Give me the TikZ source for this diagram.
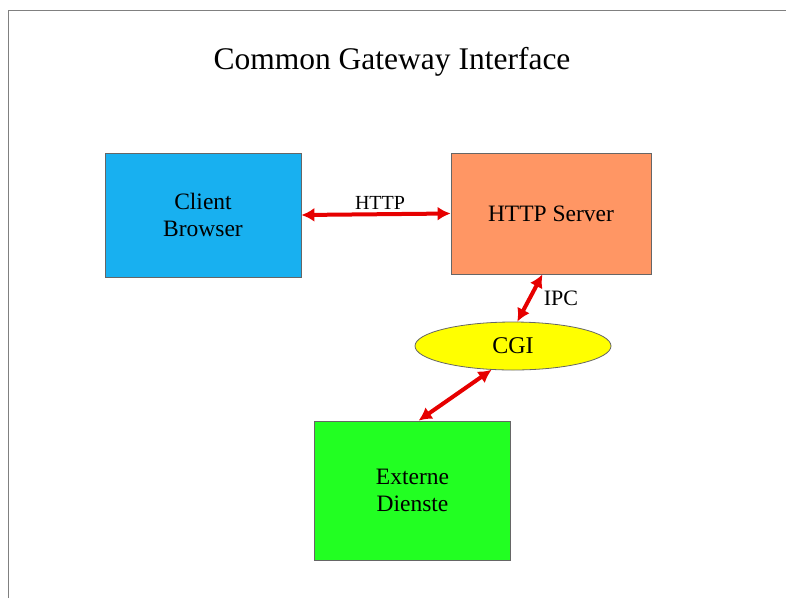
\documentclass[tikz,border=0pt]{standalone}
\usepackage{fontspec}
\setmainfont{Liberation Serif}
\usetikzlibrary{shapes.geometric,arrows.meta}
\definecolor{clientblue}{RGB}{24,176,240}
\definecolor{serverorange}{RGB}{255,150,100}
\definecolor{cgiyellow}{RGB}{255,255,0}
\definecolor{extgreen}{RGB}{34,255,34}
\definecolor{arrowred}{RGB}{230,0,0}
\begin{document}
\begin{tikzpicture}[x=1pt,y=-1pt,
    box/.style={draw=black!60,line width=0.8pt,minimum width=196pt,align=center,font=\fontsize{23.5}{27}\selectfont},
    link/.style={arrowred,line width=4pt,{Latex[length=13pt,width=14pt]}-{Latex[length=13pt,width=14pt]}},
    lbl/.style={font=\fontsize{20}{22}\selectfont}]
          \useasboundingbox (0,0) rectangle (786,598);
          % frame
          \draw[gray,line width=1pt] (8,598) -- (8,10) -- (786,10);
          % title
          \node (title) at (392,62) {\fontsize{31.5}{35}\selectfont Common Gateway Interface};
          % boxes
          \node[box,fill=clientblue,minimum height=124pt] (client) at (203,215) {Client\\Browser};
          \node[box,fill=serverorange,minimum height=121pt,minimum width=200pt] (server) at (551,213.5) {HTTP Server};
          \node[ellipse,draw=black!60,line width=0.8pt,fill=cgiyellow,minimum width=196pt,minimum height=48pt,inner sep=0pt,font=\fontsize{24}{27}\selectfont] (cgi) at (513,346) {CGI};
          \node[box,fill=extgreen,minimum height=139pt] (ext) at (412.5,490.5) {Externe\\Dienste};
          % links
          \draw[link] (client.east) -- (server.west);
          \node[lbl] (http) at (380,203) {HTTP};
          \draw[link] (server.262) -- (cgi.80);
          \node[lbl,font=\fontsize{22}{24}\selectfont] (ipc) at (561,298) {IPC};
          \draw[link] (cgi.228) -- (ext.85);
        \end{tikzpicture}
\end{document}
